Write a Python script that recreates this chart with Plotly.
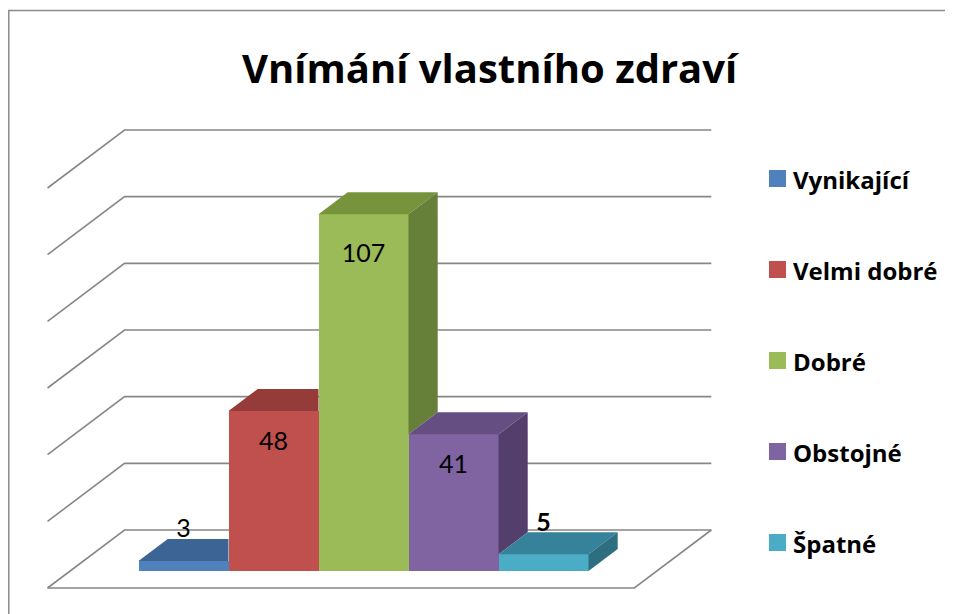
import plotly.graph_objects as go

# ---------------- data ----------------
categories = ["Vynikající", "Velmi dobré", "Dobré", "Obstojné", "Špatné"]
values = [3, 48, 107, 41, 5]
grid_values = [0, 20, 40, 60, 80, 100, 120]
title_text = "Vnímání vlastního zdraví"

# ---------------- styles ----------------
front_colors = ["#4F81BD", "#C0504D", "#9BBB59", "#8064A2", "#4BACC6"]
top_colors = ["#3C6494", "#953C3A", "#77933C", "#654F82", "#37829B"]
side_colors = ["#335580", "#7F3230", "#66803A", "#543F6C", "#2E6E81"]
grid_color = "#878787"
LABEL_FONT = "Lato"
TEXT_FONT = "Open Sans"

PAGE_OFF = 8                 # default body margin of the page
W, H = 953 - PAGE_OFF, 614 - PAGE_OFF


def px(p):                   # page pixel -> figure pixel
    return p - PAGE_OFF


# linear mapping of the (shared) data axes onto the figure
X0_PX, X_SCALE = px(183.5), 90.0          # px of x=0, px per category
Y0_PX, Y_SCALE = px(571.0), 10.0 / 3.0    # px of value 0 (bar front plane), px per unit
x_range = [-X0_PX / X_SCALE, (W - X0_PX) / X_SCALE]
y_range = [(Y0_PX - H) / Y_SCALE, Y0_PX / Y_SCALE]

# oblique depth: full floor depth t:0->1
DX = 77.0 / X_SCALE
DY = 58.0 / Y_SCALE
T_FRONT = 17.0 / 58.0      # depth of bar front plane
T_BAR = 22.0 / 58.0        # bar depth
BDX, BDY = T_BAR * DX, T_BAR * DY
X_LEFT, X_RIGHT = -1.26, len(categories) - 1 + 1.26


def proj(x, v, t):
    return x + (t - T_FRONT) * DX, v + (t - T_FRONT) * DY


fig = go.Figure()

# ---------------- walls / floor (main subplot, below bars) ----------------
for g in grid_values:
    pts = [proj(X_LEFT, g, 0), proj(X_LEFT, g, 1), proj(X_RIGHT, g, 1)]
    fig.add_trace(go.Scatter(
        x=[p[0] for p in pts], y=[p[1] for p in pts], mode="lines",
        line=dict(color=grid_color, width=1.6), hoverinfo="skip",
        showlegend=False, xaxis="x", yaxis="y"))
floor = [proj(X_LEFT, 0, 0), proj(X_RIGHT, 0, 0), proj(X_RIGHT, 0, 1)]
fig.add_trace(go.Scatter(
    x=[p[0] for p in floor], y=[p[1] for p in floor], mode="lines",
    line=dict(color=grid_color, width=1.6), hoverinfo="skip",
    showlegend=False, xaxis="x", yaxis="y"))

# ---------------- bars (overlay subplot) ----------------
xs = list(range(len(categories)))
fig.add_trace(go.Bar(
    x=xs, y=values, width=1.0, name="",
    marker=dict(color=front_colors, line=dict(width=0)),
    customdata=categories, hovertemplate="%{customdata}: %{y}<extra></extra>",
    showlegend=False, xaxis="x2", yaxis="y2"))

for i, v in enumerate(values):
    nxt = values[i + 1] if i + 1 < len(values) else 0
    x0, x1 = i - 0.5, i + 0.5
    if nxt >= v + BDY:
        top = [(x0, v), (x1, v), (x1, v + BDY), (x0 + BDX, v + BDY)]
    else:
        top = [(x0, v), (x1, v), (x1 + BDX, v + BDY), (x0 + BDX, v + BDY)]
    fig.add_trace(go.Scatter(
        x=[p[0] for p in top], y=[p[1] for p in top], fill="toself",
        fillcolor=top_colors[i], mode="lines", line=dict(width=0, color=top_colors[i]),
        hoverinfo="skip", showlegend=False, xaxis="x2", yaxis="y2"))
    if nxt < v:
        lo = max(nxt, 0)
        side = [(x1, lo), (x1, v), (x1 + BDX, v + BDY), (x1 + BDX, lo + BDY)]
        fig.add_trace(go.Scatter(
            x=[p[0] for p in side], y=[p[1] for p in side], fill="toself",
            fillcolor=side_colors[i], mode="lines", line=dict(width=0, color=side_colors[i]),
            hoverinfo="skip", showlegend=False, xaxis="x2", yaxis="y2"))

# ---------------- data labels ----------------
bold_labels = {"Špatné"}
lab_y, lab_txt = [], []
for c, v in zip(categories, values):
    if v < 20:
        lab_y.append(v + 9.0)
    else:
        lab_y.append(v - (8.0 + 0.04 * v))
    lab_txt.append(f"<b>{v}</b>" if c in bold_labels else str(v))
fig.add_trace(go.Scatter(
    x=xs, y=lab_y, mode="text", text=lab_txt, textposition="middle center",
    textfont=dict(family=LABEL_FONT, size=25, color="#000000"),
    hoverinfo="skip", showlegend=False, xaxis="x2", yaxis="y2"))

# ---------------- legend (pixel overlay) ----------------
leg_x, leg_y0, leg_dy = px(777.5), px(178.5), 91.0
leg_ys = [leg_y0 + leg_dy * i for i in range(len(categories))]
fig.add_trace(go.Scatter(
    x=[leg_x] * len(categories), y=leg_ys, mode="markers",
    marker=dict(symbol="square", size=17, color=front_colors, line=dict(width=0)),
    hoverinfo="skip", showlegend=False, xaxis="x3", yaxis="y3"))

annotations = []
for c, y in zip(categories, leg_ys):
    annotations.append(dict(
        x=px(792) / W, y=1 - (y + 1) / H, xref="paper", yref="paper",
        xanchor="left", yanchor="middle", text=f"<b>{c}</b>", showarrow=False,
        font=dict(family=TEXT_FONT, size=24, color="#000000"), borderpad=0))
annotations.append(dict(
    x=px(490) / W, y=1 - px(67) / H, xref="paper", yref="paper",
    xanchor="center", yanchor="middle", text=f"<b>{title_text}</b>", showarrow=False,
    font=dict(family=TEXT_FONT, size=40, color="#000000"), borderpad=0))

hidden = dict(visible=False, fixedrange=True)
fig.update_layout(
    width=W, height=H, margin=dict(l=0, r=0, t=0, b=0),
    paper_bgcolor="#FFFFFF", plot_bgcolor="rgba(0,0,0,0)",
    showlegend=False, barmode="overlay", bargap=0,
    xaxis=dict(range=x_range, domain=[0, 1], **hidden),
    yaxis=dict(range=y_range, domain=[0, 1], **hidden),
    xaxis2=dict(range=x_range, overlaying="x", **hidden),
    yaxis2=dict(range=y_range, overlaying="y", **hidden),
    xaxis3=dict(range=[0, W], overlaying="x", **hidden),
    yaxis3=dict(range=[H, 0], overlaying="y", **hidden),
    annotations=annotations,
    shapes=[dict(type="rect", xref="paper", yref="paper",
                 x0=0.8 / W, x1=1.02, y0=-0.02, y1=1 - px(10.5) / H,
                 line=dict(color="#8C8C8C", width=1.5), fillcolor="rgba(0,0,0,0)",
                 layer="below")],
)

fig.write_html("out.html")
